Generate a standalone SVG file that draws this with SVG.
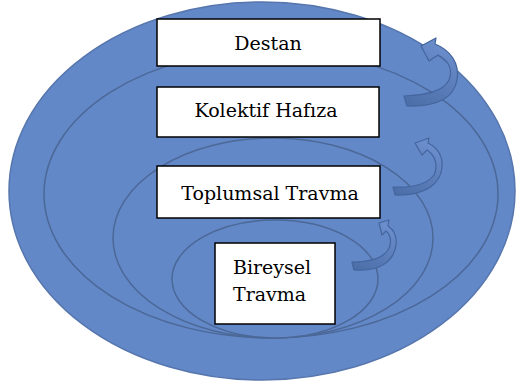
<svg xmlns="http://www.w3.org/2000/svg" width="517" height="384" viewBox="0 0 517 384">
<style>
.ring{fill:#6388c8;stroke:#4b6897;stroke-width:1.5}
.box{fill:#ffffff;stroke:#000000;stroke-width:1.5}
.lbl{font-family:'DejaVu Serif','Liberation Serif',serif;font-size:19px;fill:#000000}
.arr{fill:url(#ag);stroke:#44659d;stroke-width:1.2;stroke-linejoin:round}
</style>
<defs>
<linearGradient id="ag" x1="0" y1="1" x2="0.4" y2="0">
<stop offset="0" stop-color="#4a6ca6"/>
<stop offset="1" stop-color="#6a8dcb"/>
</linearGradient>
</defs>
<rect width="517" height="384" fill="#ffffff"/>
<g id="rings">
<ellipse class="ring" cx="262" cy="191" rx="253" ry="189" style="stroke:#5676ad"/>
<ellipse class="ring" cx="271" cy="194" rx="227" ry="144"/>
<ellipse class="ring" cx="273" cy="238" rx="160" ry="100"/>
<ellipse class="ring" cx="275" cy="279" rx="103" ry="59"/>
</g>
<g id="connectors">
<path class="arr" d="M404,96 C425,95 443,92 449,80 C453,70 449,61 438,55 L429,61 L421,46 L436,38 L435,44 C450,50 460,63 457,80 C454,97 440,107 407,106 Z"/>
<path class="arr" d="M393,187 C413,188 427,184 434,175 C438,166 436,156 427,150 L422,155 L415,143 L429,138 L428,143 C438,148 443,157 442,168 C440,183 427,196 395,195 Z"/>
<path class="arr" d="M352,262 C368,262 382,259 388,250 C392,243 391,235 386,231 L382,235 L379,223 L389,220 L388,226 C394,230 397,237 396,245 C394,260 382,272 354,270 Z"/>
</g>
<g id="destan">
<rect class="box" x="157" y="19" width="223" height="47"/>
<text class="lbl" x="268" y="50" text-anchor="middle">Destan</text>
</g>
<g id="kolektif">
<rect class="box" x="157" y="87" width="222" height="50"/>
<text class="lbl" x="266" y="117" text-anchor="middle">Kolektif Hafıza</text>
</g>
<g id="toplumsal">
<rect class="box" x="157" y="166" width="223" height="52"/>
<text class="lbl" x="270" y="200" text-anchor="middle">Toplumsal Travma</text>
</g>
<g id="bireysel">
<rect class="box" x="215" y="243" width="120" height="81"/>
<text class="lbl" x="233" y="274">Bireysel</text>
<text class="lbl" x="233" y="301">Travma</text>
</g>
</svg>
